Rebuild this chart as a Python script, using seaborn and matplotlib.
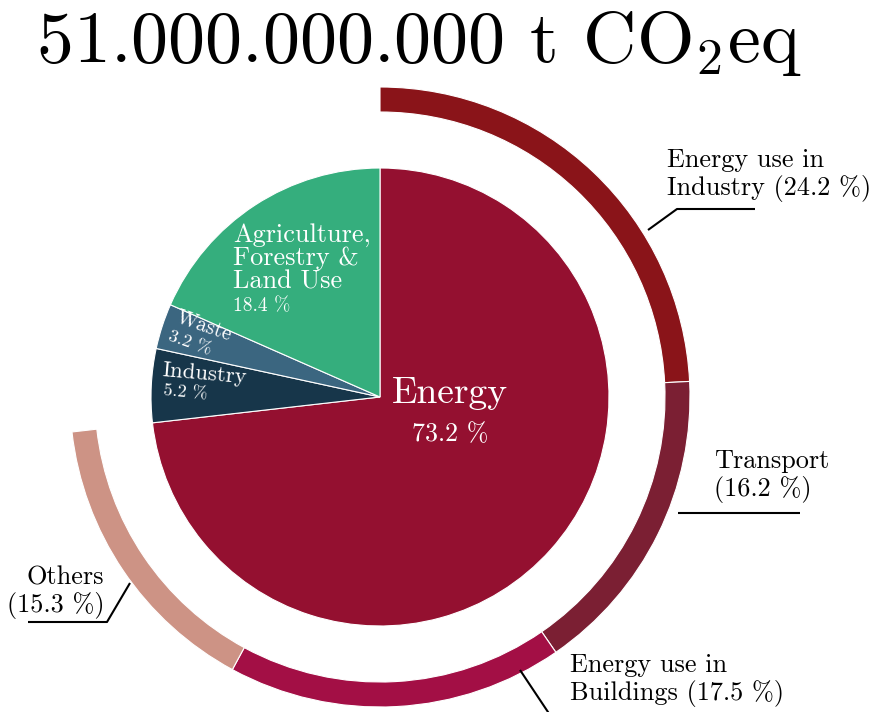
import matplotlib
matplotlib.use("Agg")
import matplotlib.pyplot as plt
import seaborn as sns

# Global emissions by sector (share of total, %)
sectors = ["Energy", "Industry", "Waste", "Agriculture, Forestry & Land Use"]
sector_share = [73.2, 5.2, 3.2, 18.4]
sector_colors = ["#941030", "#17364a", "#3b6680", "#35ae7d"]

# Breakdown of the energy sector (%)
energy_parts = ["Energy use in Industry", "Transport", "Energy use in Buildings", "Others"]
energy_share = [24.2, 16.2, 17.5, 15.3]
energy_colors = ["#8a1419", "#7b1f33", "#a30f45", "#cd9385"]

total_label = r"51.000.000.000 t CO$_2$eq"

sns.set_theme(style="white")
plt.rcParams["font.family"] = ["cmr10", "DejaVu Serif"]
plt.rcParams["mathtext.fontset"] = "cm"
plt.rcParams["axes.unicode_minus"] = False
plt.rcParams["axes.formatter.use_mathtext"] = True
plt.rcParams["text.color"] = "black"

W, H = 872, 712
CX, CY = 380, 397          # pie centre in pixels
R_PIE, R_RING, RING_W = 229, 310, 25

fig = plt.figure(figsize=(W / 100, H / 100), dpi=100)
ax = fig.add_axes([0, 0, 1, 1])


def px(x, y):
    """Pixel position -> data coordinates."""
    return x - CX, CY - y


# inner pie
ax.pie(sector_share, colors=sector_colors, startangle=90, counterclock=False,
       radius=R_PIE, center=(0, 0),
       wedgeprops=dict(edgecolor="white", linewidth=0.8))

# outer ring for the energy breakdown (rest of the circle left empty)
ring_vals = energy_share + [100 - sum(energy_share)]
ring_cols = energy_colors + [(1, 1, 1, 0)]
wedges, _ = ax.pie(ring_vals, colors=ring_cols, startangle=90, counterclock=False,
                   radius=R_RING, center=(0, 0),
                   wedgeprops=dict(width=RING_W, edgecolor="white", linewidth=0.8))
wedges[-1].set_edgecolor((1, 1, 1, 0))

ax.set_xlim(-CX, W - CX)
ax.set_ylim(-(H - CY), CY)
ax.set_aspect("equal")
ax.axis("off")

# title
ax.text(*px(419, 62), total_label, fontsize=53.3, ha="center", va="baseline")

# labels inside the pie
ax.text(*px(450, 393), sectors[0], fontsize=27, color="white", ha="center", va="center")
ax.text(*px(450, 434), f"{sector_share[0]} %", fontsize=18.7, color="white", ha="center", va="center")

ax.text(*px(233, 258), "Agriculture,\nForestry &\nLand Use", fontsize=18.9, color="white",
        ha="left", va="center", linespacing=0.98)
ax.text(*px(233, 306), f"{sector_share[3]} %", fontsize=14, color="white", ha="left", va="center")

ax.text(*px(204, 326), sectors[2], fontsize=15.2, color="white", ha="center", va="center",
        rotation=-19, rotation_mode="anchor")
ax.text(*px(190, 343), f"{sector_share[2]} %", fontsize=13.2, color="white", ha="center", va="center",
        rotation=-19, rotation_mode="anchor")

ax.text(*px(205, 374), sectors[1], fontsize=16.4, color="white", ha="center", va="center",
        rotation=-5, rotation_mode="anchor")
ax.text(*px(185, 393), f"{sector_share[1]} %", fontsize=13.1, color="white", ha="center", va="center",
        rotation=-5, rotation_mode="anchor")

# outer labels with leader lines
lab_fs = 18.9
ax.text(*px(667, 175), f"Energy use in\nIndustry ({energy_share[0]} %)", fontsize=lab_fs,
        ha="left", va="center", linespacing=1.12)
ax.text(*px(714, 476), f"Transport\n({energy_share[1]} %)", fontsize=lab_fs,
        ha="left", va="center", linespacing=1.12, multialignment="left")
ax.text(*px(104, 592), f"Others\n({energy_share[3]} %)", fontsize=lab_fs,
        ha="right", va="center", linespacing=1.12, multialignment="right")
ax.text(*px(570, 680), f"Energy use in\nBuildings ({energy_share[2]} %)", fontsize=lab_fs,
        ha="left", va="center", linespacing=1.12)

leaders = [
    [(648, 230), (677, 209), (755, 209)],
    [(678, 513), (800, 513)],
    [(130, 583), (107, 622), (28, 622)],
    [(520, 670), (550, 715)],
]
for pts in leaders:
    xs, ys = zip(*[px(x, y) for x, y in pts])
    ax.plot(xs, ys, color="black", lw=1.5, solid_capstyle="butt", clip_on=False)

fig.savefig("out.png", dpi=100)
